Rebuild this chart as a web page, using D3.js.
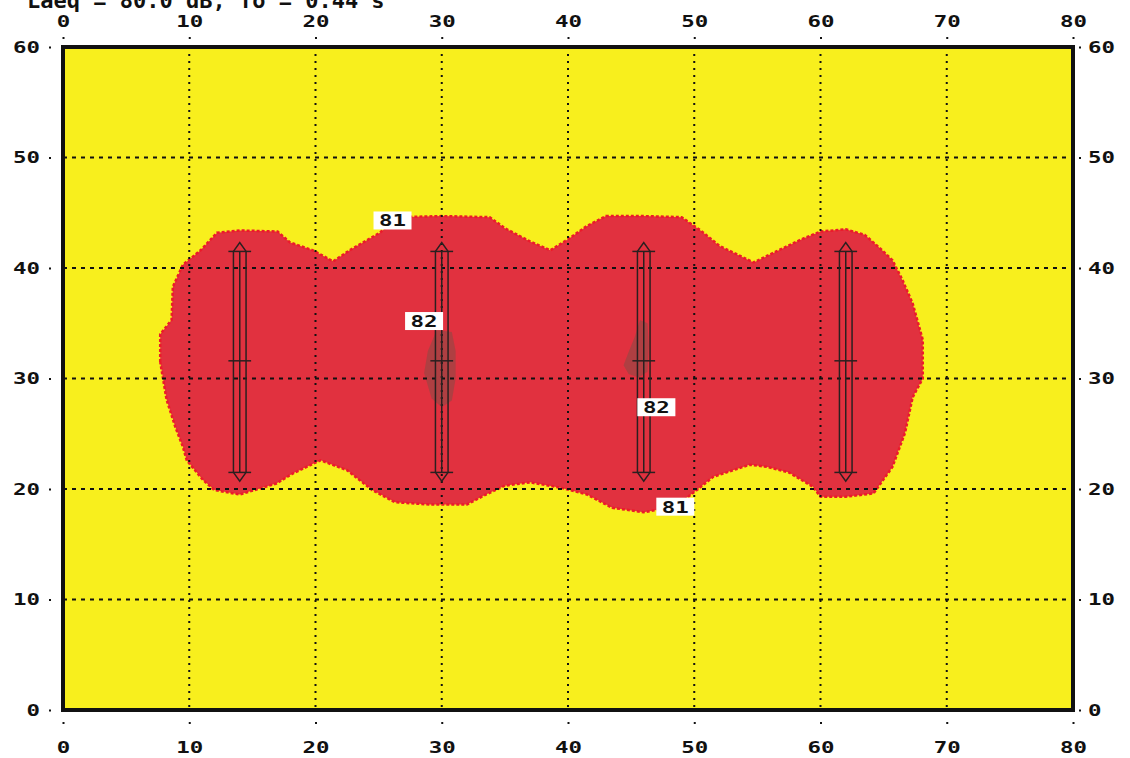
<!DOCTYPE html>
<html>
<head>
<meta charset="utf-8">
<script src="https://cdn.jsdelivr.net/npm/d3@7"></script>
<style>
body{margin:0;background:#fff;}
text{font-family:"DejaVu Sans Mono",monospace;font-weight:bold;fill:#111;}
</style>
</head>
<body>
<svg id="chart"></svg>
<script>
var width = 1130, height = 758;

// x / y ticks
var xTicks = [0,10,20,30,40,50,60,70,80];
var yTicks = [0,10,20,30,40,50,60];

// outline of the 81 dB zone (x, y in metres)
var zone81 = [[7.7,31.5],[7.7,34],[8.6,35.3],[8.7,38.3],[9.5,40.3],[10.9,41.6],[12.2,43.2],[14,43.4],[17,43.3],
	[18,42.3],[19.8,41.6],[21.4,40.6],[22.7,41.6],[25.1,43.2],[26.5,44.6],[30,44.7],[33.8,44.6],[35,43.6],
	[37,42.4],[38.6,41.6],[40,42.6],[41.5,43.8],[43,44.7],[46,44.7],[49,44.6],[50.5,43.4],[52,42],[54.7,40.5],
	[56.5,41.5],[58.5,42.6],[60,43.3],[62,43.5],[63.5,43],[64.7,41.8],[65.7,40.7],[66.5,38.9],[67.3,36.8],
	[68.1,33.5],[68.1,30],[67.3,28.3],[66.7,25.1],[65.7,22],[64.2,19.6],[62,19.3],[60,19.3],[59.4,20.2],
	[57.5,21.5],[55.8,22],[54.4,22.2],[51.5,21.1],[50.2,19.9],[48.5,18.4],[46,17.9],[43.5,18.3],[41.5,19.5],
	[39.5,20.1],[37,20.6],[35,20.3],[33.5,19.5],[32,18.6],[29,18.6],[26.3,18.8],[24.5,19.9],[22.5,21.7],
	[20.4,22.6],[18.2,21.4],[16.9,20.5],[14,19.5],[12,19.9],[11.1,20.8],[9.8,22.6],[9.5,23.8],[8.9,25.6],
	[8.2,28.1],[7.7,31.5]];

// small 82 dB patches near the sources
var zone82a = [[29.6,34.4],[30.8,34.2],[31.1,32.5],[31.1,30],[30.8,28],[30,27.4],[29.2,28.2],[28.6,30.5],[28.9,32.5],[29.6,34.4]];
var zone82b = [[45.7,35.3],[46.3,35],[46.4,33],[46.3,30.6],[45.6,30.1],[44.8,30.4],[44.4,31.2],[44.8,32.4],[45.3,33.8],[45.7,35.3]];

// line sources
var srcX = [14, 30, 46, 62];
var srcBottom = 21.5, srcTop = 41.5, srcMid = 31.6;

// contour labels
var labelText = ["81", "82", "82", "81"];
var labelX = [26.1, 28.6, 47.0, 48.5];
var labelY = [44.3, 35.2, 27.4, 18.4];

var svg = d3.select("#chart").attr("width", width).attr("height", height);

var xScale = d3.scaleLinear().domain([0, 80]).range([63, 1073]);
var yScale = d3.scaleLinear().domain([0, 60]).range([710, 47]);

// title, cut at the top edge as in the scan
svg.append("text")
	.attr("x", 27).attr("y", 8)
	.style("font-size", "22px")
	.text("Laeq = 80.0 dB, To = 0.44 s");

var plot = svg.append("g");

plot.append("rect")
	.attr("x", xScale(0)).attr("y", yScale(60))
	.attr("width", xScale(80) - xScale(0)).attr("height", yScale(0) - yScale(60))
	.style("fill", "#f8ef1d");

var line = d3.line()
	.x(function(d){return xScale(d[0])})
	.y(function(d){return yScale(d[1])});

plot.append("path")
	.datum(zone81)
	.attr("d", line)
	.style("fill", "#e1313f")
	.style("stroke", "#ec1a2a")
	.style("stroke-width", 2.5)
	.style("stroke-dasharray", "3,2");

[zone82a, zone82b].forEach(function(z){
	plot.append("path")
		.datum(z)
		.attr("d", line)
		.style("fill", "#8e4a44")
		.style("fill-opacity", 0.6);
});

// dotted grid
plot.selectAll(".gx").data(xTicks.slice(1, -1)).enter().append("line")
	.attr("x1", function(d){return xScale(d)}).attr("x2", function(d){return xScale(d)})
	.attr("y1", yScale(60)).attr("y2", yScale(0))
	.style("stroke", "#111").style("stroke-width", 2).style("stroke-dasharray", "2,5");
plot.selectAll(".gy").data(yTicks.slice(1, -1)).enter().append("line")
	.attr("x1", xScale(0)).attr("x2", xScale(80))
	.attr("y1", function(d){return yScale(d)}).attr("y2", function(d){return yScale(d)})
	.style("stroke", "#111").style("stroke-width", 2).style("stroke-dasharray", "4,5");

// line sources
srcX.forEach(function(sx){
	var g = plot.append("g").style("stroke", "#2a2020").style("stroke-width", 1.5).style("fill", "none");
	[-0.5, 0, 0.5].forEach(function(o){
		g.append("line")
			.attr("x1", xScale(sx + o)).attr("x2", xScale(sx + o))
			.attr("y1", yScale(srcBottom)).attr("y2", yScale(srcTop));
	});
	[srcBottom, srcMid, srcTop].forEach(function(yy){
		g.append("line")
			.attr("x1", xScale(sx - 0.9)).attr("x2", xScale(sx + 0.9))
			.attr("y1", yScale(yy)).attr("y2", yScale(yy));
	});
	g.append("path").attr("d", line([[sx - 0.5, srcTop], [sx, srcTop + 0.8], [sx + 0.5, srcTop]]));
	g.append("path").attr("d", line([[sx - 0.5, srcBottom], [sx, srcBottom - 0.8], [sx + 0.5, srcBottom]]));
});

// contour labels
labelText.forEach(function(t, i){
	var cx = xScale(labelX[i]), cy = yScale(labelY[i]);
	plot.append("rect")
		.attr("x", cx - 19).attr("y", cy - 9)
		.attr("width", 38).attr("height", 18)
		.style("fill", "#fff");
	plot.append("text")
		.attr("transform", "translate(" + cx + "," + (cy + 6) + ") scale(1.4,1)")
		.attr("text-anchor", "middle")
		.style("font-size", "16px")
		.text(t);
});

// frame
plot.append("rect")
	.attr("x", xScale(0)).attr("y", yScale(60))
	.attr("width", xScale(80) - xScale(0)).attr("height", yScale(0) - yScale(60))
	.style("fill", "none").style("stroke", "#111").style("stroke-width", 4);

// axes
function styleAxis(g){
	g.select(".domain").remove();
	g.selectAll(".tick line").style("stroke", "#111").style("stroke-width", 2).style("stroke-dasharray", "2,2");
	g.selectAll(".tick text")
		.attr("transform", "scale(1.4,1)")
		.style("font-size", "16px").style("font-family", "DejaVu Sans Mono, monospace")
		.style("font-weight", "bold").style("fill", "#111");
}

svg.append("g").attr("transform", "translate(0,724)")
	.call(d3.axisBottom(xScale).tickValues(xTicks).tickSize(-4).tickPadding(18))
	.call(styleAxis);
svg.append("g").attr("transform", "translate(0,37)")
	.call(d3.axisTop(xScale).tickValues(xTicks).tickSize(-4).tickPadding(10))
	.call(styleAxis);
svg.append("g").attr("transform", "translate(49,0)")
	.call(d3.axisLeft(yScale).tickValues(yTicks).tickSize(-4).tickPadding(6.5))
	.call(styleAxis);
svg.append("g").attr("transform", "translate(1081,0)")
	.call(d3.axisRight(yScale).tickValues(yTicks).tickSize(-4).tickPadding(5))
	.call(styleAxis);
</script>
</body>
</html>
